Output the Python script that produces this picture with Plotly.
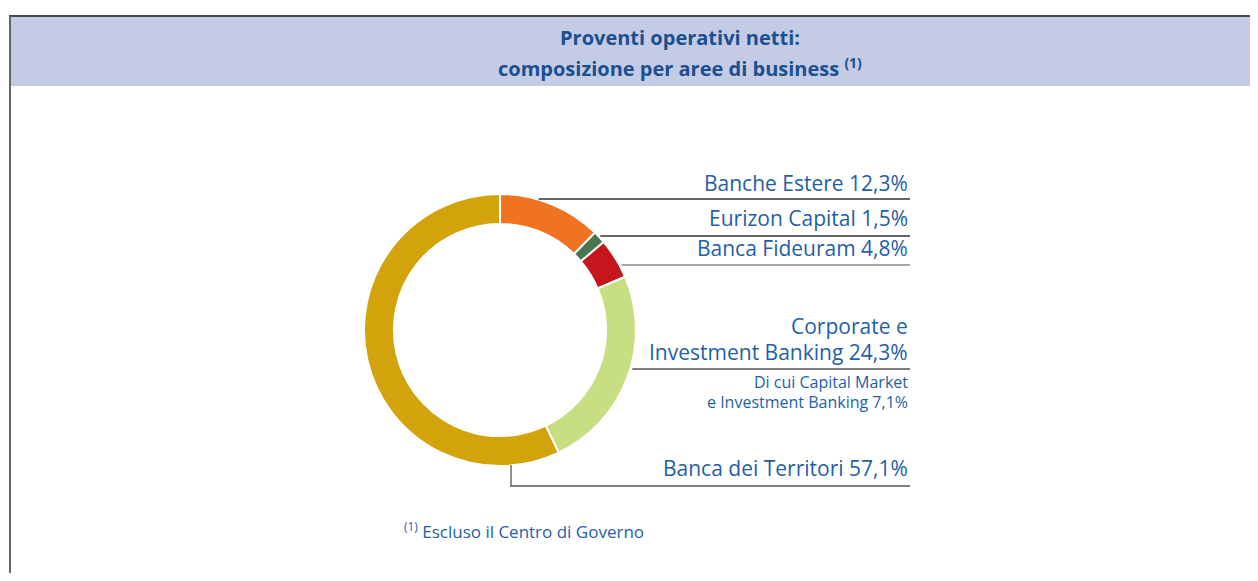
import math
import plotly.graph_objects as go

# page geometry: the browser adds an 8px body margin, so the figure is
# placed at (8, 8) and sized to fit inside the 1258x581 window
OFF = 8
W, H = 1242, 565

# ---- data ----
segments = ["Banche Estere", "Eurizon Capital", "Banca Fideuram",
            "Corporate e Investment Banking", "Banca dei Territori"]
shares = [12.3, 1.5, 4.8, 24.3, 57.1]
seg_colors = ["#f07322", "#4a7551", "#c4161c", "#c8de82", "#d3a30b"]
label_lines = [
    ["Banche Estere 12,3%"],
    ["Eurizon Capital 1,5%"],
    ["Banca Fideuram 4,8%"],
    ["Corporate e", "Investment Banking 24,3%"],
    ["Banca dei Territori 57,1%"],
]
sub_note = ["Di cui Capital Market", "e Investment Banking 7,1%"]
title_lines = ["Proventi operativi netti:", "composizione per aree di business"]
footnote = "Escluso il Centro di Governo"

BLUE = "#1f5fa6"
TITLE_BLUE = "#1b4f91"
FONT = "Open Sans"

def px(x):
    return (x - OFF) / W

def py(y):
    return 1 - (y - OFF) / H

# donut geometry (window pixels)
cx, cy, R = 500, 330, 136

fig = go.Figure(go.Pie(
    labels=segments, values=shares, sort=False, direction="clockwise",
    rotation=0, hole=0.78,
    marker=dict(colors=seg_colors, line=dict(color="white", width=2)),
    textinfo="none", hoverinfo="label+percent", showlegend=False,
    domain=dict(x=[px(cx - R), px(cx + R)], y=[py(cy + R), py(cy - R)]),
))

shapes = []
# header band and frame
shapes.append(dict(type="rect", xref="paper", yref="paper",
                   x0=px(10), x1=1, y0=py(86), y1=py(16),
                   fillcolor="#c4cbe4", line=dict(width=0), layer="below"))
shapes.append(dict(type="line", xref="paper", yref="paper",
                   x0=px(9), x1=1, y0=py(16), y1=py(16),
                   line=dict(color="#4a4a4a", width=2)))
shapes.append(dict(type="line", xref="paper", yref="paper",
                   x0=px(10), x1=px(10), y0=py(16), y1=0,
                   line=dict(color="#666666", width=2)))

# leader lines
line_end = 910
lead_y = [199, 236, 265, 369]
lead_cols = ["#333333", "#333333", "#888888", "#555555"]
for yy, lc in zip(lead_y, lead_cols):
    dx = math.sqrt(max(R * R - (yy - cy) ** 2, 0))
    x0 = cx + dx + 2
    shapes.append(dict(type="line", xref="paper", yref="paper",
                       x0=px(x0), x1=px(line_end), y0=py(yy), y1=py(yy),
                       line=dict(color=lc, width=1.3)))
# Banca dei Territori leader (vertical then horizontal)
vx, vy = 511, 486
shapes.append(dict(type="path", xref="paper", yref="paper",
                   path=f"M {px(vx)},{py(cy + R - 1)} L {px(vx)},{py(vy)} L {px(line_end)},{py(vy)}",
                   line=dict(color="#555555", width=1.3)))

annotations = []
# title
annotations.append(dict(xref="paper", yref="paper", x=px(680), y=py(38),
                        text=f"<b>{title_lines[0]}</b>", showarrow=False,
                        xanchor="center", yanchor="middle",
                        font=dict(family=FONT, size=20, color=TITLE_BLUE)))
annotations.append(dict(xref="paper", yref="paper", x=px(680), y=py(68),
                        text=f"<b>{title_lines[1]} <sup>(1)</sup></b>", showarrow=False,
                        xanchor="center", yanchor="middle",
                        font=dict(family=FONT, size=20, color=TITLE_BLUE)))

# segment labels
label_y = [[183], [218], [248], [326, 352], [468]]
for lines, ys in zip(label_lines, label_y):
    for t, yy in zip(lines, ys):
        annotations.append(dict(xref="paper", yref="paper", x=px(line_end), y=py(yy),
                                text=t, showarrow=False, xanchor="right", yanchor="middle",
                                font=dict(family=FONT, size=21, color=BLUE)))
for t, yy in zip(sub_note, [382, 402]):
    annotations.append(dict(xref="paper", yref="paper", x=px(line_end), y=py(yy),
                            text=t, showarrow=False, xanchor="right", yanchor="middle",
                            font=dict(family=FONT, size=16, color=BLUE)))

# footnote
annotations.append(dict(xref="paper", yref="paper", x=px(402), y=py(530),
                        text=f"<sup>(1)</sup> {footnote}", showarrow=False,
                        xanchor="left", yanchor="middle",
                        font=dict(family=FONT, size=17, color=BLUE)))

fig.update_layout(
    width=W, height=H, margin=dict(l=0, r=0, t=0, b=0),
    paper_bgcolor="white", plot_bgcolor="white",
    shapes=shapes, annotations=annotations,
)
fig.write_html("out.html")
